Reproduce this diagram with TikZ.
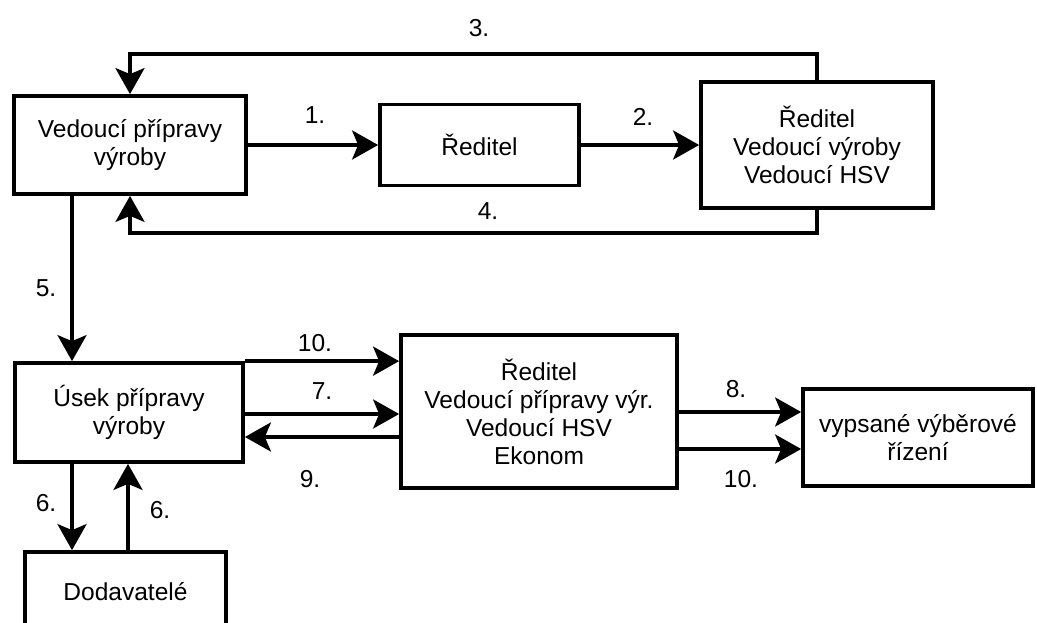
\documentclass[tikz,border=0pt]{standalone}
\usepackage{fontspec}
\setmainfont{Liberation Sans}
\usetikzlibrary{arrows.meta}
\begin{document}
\begin{tikzpicture}[x=0.75pt, y=-0.75pt,
    box/.style={draw, line width=2.8pt, align=center, inner sep=0pt, font=\fontsize{18.4}{21}\selectfont},
    num/.style={font=\fontsize{18.4}{21}\selectfont, inner sep=0pt},
    arr/.style={line width=2.8pt, -{Stealth[length=19.5pt, width=21.75pt, inset=4.5pt]}}]
    \useasboundingbox (0,0) rectangle (1037,623);
    \clip (0,0) rectangle (1037,623);
    \node[box, minimum width=174pt, minimum height=73.5pt] (vpv) at (130,145) {Vedoucí přípravy\\výroby};
    \node[box, minimum width=149.25pt, minimum height=60.75pt] (red) at (479.5,145) {Ředitel};
    \node[box, minimum width=174pt, minimum height=94.5pt] (vedeni) at (817,145) {Ředitel\\Vedoucí výroby\\Vedoucí HSV};
    \node[box, minimum width=171pt, minimum height=74.25pt] (usek) at (129,412.5) {Úsek přípravy\\výroby};
    \node[box, minimum width=207pt, minimum height=114.75pt] (komise) at (539,411.5) {Ředitel\\Vedoucí přípravy výr.\\Vedoucí HSV\\Ekonom};
    \node[box, minimum width=172.5pt, minimum height=72.75pt] (vr) at (918,437.5) {vypsané výběrové\\řízení};
    \node[box, minimum width=150.75pt, minimum height=60pt] (dod) at (125.5,592) {Dodavatelé};
    \coordinate (k5) at (72,0);
    \coordinate (k6) at (128,0);
    \coordinate (r7) at (0,414);
    \coordinate (r9) at (0,437);
    \coordinate (r8) at (0,412);
    \coordinate (r10) at (0,449);
    \draw[arr] (vpv) -- (red);
    \draw[arr] (red) -- (vedeni);
    \draw[arr] (vedeni.north) -- ++(0,-26) -| (vpv.north);
    \draw[arr] (vedeni.south) -- ++(0,23) -| (vpv.south);
    \draw[arr] (vpv.south -| k5) -- (usek.north -| k5);
    \draw[arr] (usek.north east) -- (komise.west |- usek.north east);
    \draw[arr] (usek.east |- r7) -- (komise.west |- r7);
    \draw[arr] (komise.west |- r9) -- (usek.east |- r9);
    \draw[arr] (komise.east |- r8) -- (vr.west |- r8);
    \draw[arr] (komise.east |- r10) -- (vr.west |- r10);
    \draw[arr] (usek.south -| k5) -- (dod.north -| k5);
    \draw[arr] (dod.north -| k6) -- (usek.south -| k6);
    \node[num] (n1) at (315,115) {1.};
    \node[num] (n2) at (643,117) {2.};
    \node[num] (n3) at (479,28) {3.};
    \node[num] (n4) at (488,211) {4.};
    \node[num] (n5) at (46,288) {5.};
    \node[num] (n6a) at (46,503) {6.};
    \node[num] (n6b) at (160,510) {6.};
    \node[num] (n7) at (322,391) {7.};
    \node[num] (n8) at (736,389) {8.};
    \node[num] (n9) at (310,479) {9.};
    \node[num] (n10a) at (315,343) {10.};
    \node[num] (n10b) at (741,479) {10.};
\end{tikzpicture}
\end{document}
